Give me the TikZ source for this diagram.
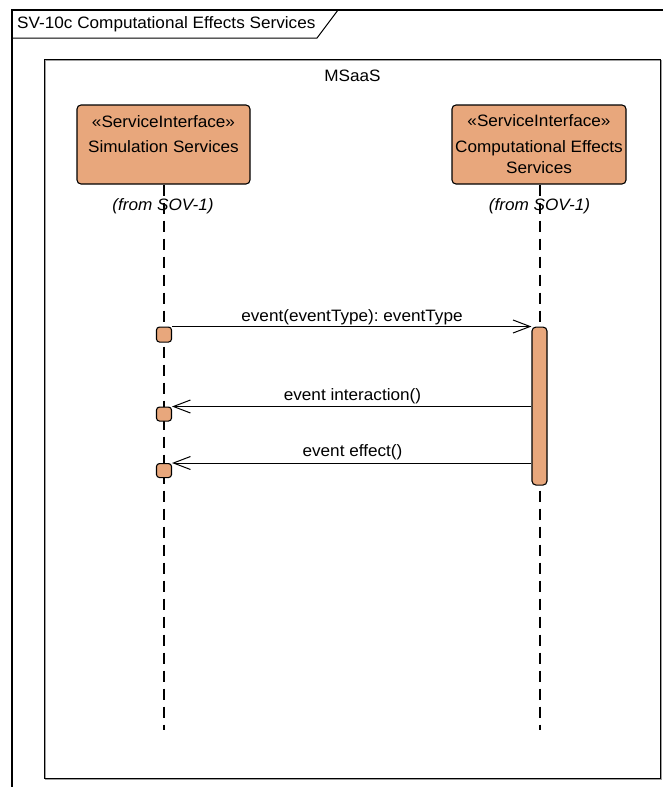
\documentclass[tikz,border=0pt]{standalone}
\usepackage{fontspec}
\setmainfont[FakeStretch=1.04]{Liberation Sans}
\usetikzlibrary{arrows.meta}
\definecolor{boxfill}{RGB}{232,167,124}
\definecolor{shadowgray}{RGB}{160,160,160}
\tikzset{
  lbl/.style={font=\fontsize{16.5}{19}\selectfont\frenchspacing, inner sep=0pt, anchor=base},
  ifacebox/.style={draw=black, line width=1.1pt, fill=boxfill, rounded corners=4pt},
  actbox/.style={draw=black, line width=1.1pt, fill=boxfill, rounded corners=3pt},
  lifeline/.style={draw=black, line width=1.3pt, dash pattern=on 11pt off 7pt},
  msg/.style={draw=black, line width=1pt, -{Straight Barb[length=17pt,width=13pt,line width=1pt]}}
}
\begin{document}
\begin{tikzpicture}[x=1pt,y=-1pt]
\useasboundingbox (0,0) rectangle (663,787);
% outer frame
\coordinate (fbl) at (12,790);
\coordinate (ftl) at (12,10);
\coordinate (ftr) at (666,10);
\draw[line width=2pt] (fbl) -- (ftl) -- (ftr);
\coordinate (tabA) at (12,38);
\coordinate (tabB) at (317,38);
\coordinate (tabC) at (338,10);
\draw[line width=1pt] (tabA) -- (tabB) -- (tabC);
\node[lbl, anchor=base west] (title) at (17,28) {SV-10c Computational Effects Services};
% inner MSaaS box
\draw[shadowgray, line width=1pt] (45.5,60.5) rectangle (661.5,779.5);
\draw[black, line width=1pt] (44,59) rectangle (660,778);
\node[lbl] (msaas) at (352.5,81.5) {MSaaS};
% interface boxes
\node[ifacebox, minimum width=173pt, minimum height=79pt, inner sep=0pt] (sim) at (163.5,144.5) {};
\node[lbl] (simA) at (163.5,127) {«ServiceInterface»};
\node[lbl] (simB) at (163.5,152) {Simulation Services};
\node[ifacebox, minimum width=174pt, minimum height=79pt, inner sep=0pt] (comp) at (539,144.5) {};
\node[lbl] (compA) at (539,126.5) {«ServiceInterface»};
\node[lbl] (compB) at (539,152) {Computational Effects};
\node[lbl] (compC) at (539,173) {Services};
% lifelines
\coordinate (simEnd) at (164,730);
\coordinate (compEnd) at (540,730);
\draw[lifeline] (sim.south -| simEnd) -- (simEnd);
\draw[lifeline] (comp.south -| compEnd) -- (compEnd);
\node[lbl, font=\fontsize{16.5}{19}\selectfont\frenchspacing\itshape] (simFrom) at (163,210) {(from SOV-1)};
\node[lbl, font=\fontsize{16.5}{19}\selectfont\frenchspacing\itshape] (compFrom) at (539.5,210) {(from SOV-1)};
% activations
\node[actbox, minimum width=15pt, minimum height=15pt, inner sep=0pt, anchor=north] (act1) at (164,326.5) {};
\node[actbox, minimum width=15pt, minimum height=14pt, inner sep=0pt, anchor=north] (act2) at (164,406.5) {};
\node[actbox, minimum width=15pt, minimum height=14pt, inner sep=0pt, anchor=north] (act3) at (164,463) {};
\node[actbox, rounded corners=4pt, minimum width=15pt, minimum height=158pt, inner sep=0pt, anchor=north] (bar) at (539.5,326.5) {};
% messages
\draw[msg] (act1.north east) -- (bar.north west);
\draw[msg] (bar.west |- act2.north) -- (act2.north east);
\draw[msg] (bar.west |- act3.north) -- (act3.north east);
\node[lbl] (m1) at (352,321) {event(eventType): eventType};
\node[lbl] (m2) at (352.5,400) {event interaction()};
\node[lbl] (m3) at (352.5,456.5) {event effect()};
\end{tikzpicture}
\end{document}
